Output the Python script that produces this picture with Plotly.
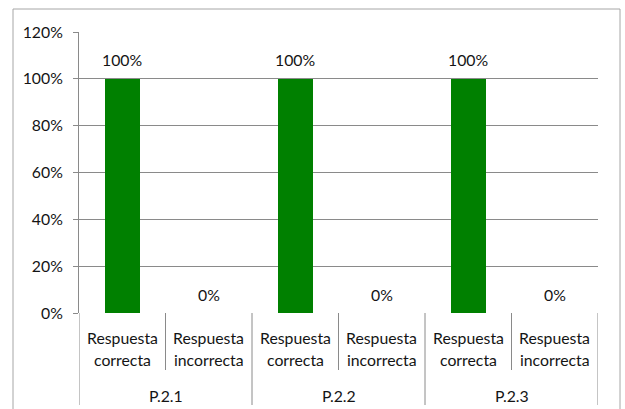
import plotly.graph_objects as go

groups = ["P.2.1", "P.2.2", "P.2.3"]
answers = [["Respuesta", "correcta"], ["Respuesta", "incorrecta"]]
values = [100, 0, 100, 0, 100, 0]
y_ticks = [0, 20, 40, 60, 80, 100, 120]

W, H = 625, 409
L, R, T, B = 79, 27, 32, 96
plot_h = H - T - B
FONT = "Lato"
GRID = "#8a8a8a"
TXT = "#141414"
FS = 15.8

xs = list(range(len(values)))
fig = go.Figure()
fig.add_trace(go.Bar(x=xs, y=values, width=0.405, marker=dict(color="#008000", line=dict(width=0)),
                     hoverinfo="skip"))

ann = []
for x, v in zip(xs, values):
    ann.append(dict(x=x, y=v, xref="x", yref="y", text=f"{v}%", showarrow=False,
                    yshift=19, font=dict(family=FONT, size=FS, color=TXT)))
def py(pix):
    return -(pix - (H - B)) / plot_h
for gi, g in enumerate(groups):
    for ai, a in enumerate(answers):
        x = gi * len(answers) + ai
        ann.append(dict(x=x, y=py(337), xref="x", yref="paper", text=a[0], showarrow=False,
                        yanchor="middle", font=dict(family=FONT, size=FS, color=TXT)))
        ann.append(dict(x=x, y=py(359), xref="x", yref="paper", text=a[1], showarrow=False,
                        yanchor="middle", font=dict(family=FONT, size=FS, color=TXT)))
    cx = gi * len(answers) + (len(answers) - 1) / 2
    ann.append(dict(x=cx, y=py(395), xref="x", yref="paper", text=g, showarrow=False,
                    yanchor="middle", font=dict(family=FONT, size=FS, color=TXT)))

shapes = []
n = len(values)
for i in range(n + 1):
    xpos = i - 0.5
    bottom = 405 if i % len(answers) == 0 else 370
    shapes.append(dict(type="line", xref="x", yref="paper", x0=xpos, x1=xpos,
                       y0=0, y1=py(bottom), line=dict(color=GRID, width=1)))
# outer chart border
plot_w = W - L - R
shapes.append(dict(type="rect", xref="paper", yref="paper",
                   x0=(13 - L) / plot_w, x1=(620 - L) / plot_w,
                   y0=py(9), y1=py(420), line=dict(color="#a6a6a6", width=1)))

fig.update_layout(
    width=W, height=H, margin=dict(l=L, r=R, t=T, b=B),
    paper_bgcolor="white", plot_bgcolor="white", showlegend=False,
    annotations=ann, shapes=shapes, bargap=0,
    font=dict(family=FONT, size=FS, color=TXT),
    xaxis=dict(range=[-0.5, n - 0.5], showgrid=False, zeroline=False, showticklabels=False,
               ticks="", showline=False, fixedrange=True),
    yaxis=dict(range=[0, 120], tickvals=y_ticks, ticktext=[f"{t}%" for t in y_ticks],
               showgrid=True, gridcolor=GRID, gridwidth=1, zeroline=False,
               showline=True, linecolor=GRID, linewidth=1,
               ticks="outside", ticklen=5, tickcolor=GRID, ticklabelstandoff=7,
               tickfont=dict(family=FONT, size=FS, color=TXT), fixedrange=True),
)
fig.write_html("out.html", config={"displayModeBar": False},
               post_script="document.body.style.margin='0';document.body.style.overflow='hidden';")
